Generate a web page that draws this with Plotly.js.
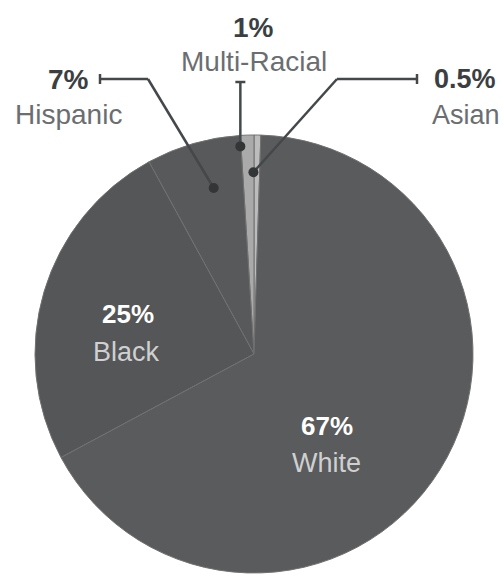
<!DOCTYPE html>
<html>
<head>
<meta charset="utf-8">
<script src="https://cdn.plot.ly/plotly-3.0.1.min.js"></script>
<style>html,body{margin:0;padding:0;background:#fff;}#chart{width:502px;height:575px;}</style>
</head>
<body>
<div id="chart"></div>
<script>
// ---- data ----
const categories = ['Asian', 'Multi-Racial', 'Hispanic', 'Black', 'White'];
const values = [0.5, 1, 7, 25, 67];
const pctLabels = ['0.5%', '1%', '7%', '25%', '67%'];

// ---- styles ----
const sliceColors = ['#bcbcbc', '#aaaaaa', '#58595a', '#555657', '#5a5b5c'];
const W = 502, H = 575;
const CX = 254, CY = 354, R = 219; // pie centre / radius in px
const px = (x) => x / W;
const py = (y) => 1 - y / H;

const trace = {
  type: 'pie',
  labels: categories,
  values: values,
  sort: false,
  direction: 'counterclockwise',
  rotation: 0,
  textinfo: 'none',
  hoverinfo: 'none',
  showlegend: false,
  marker: { colors: sliceColors, line: { color: '#717171', width: 1 } },
  domain: { x: [px(CX - R), px(CX + R)], y: [py(CY + R), py(CY - R)] }
};

// slice angles (degrees, counter-clockwise from 12 o'clock)
const total = values.reduce((a, b) => a + b, 0);
const starts = [];
let cum = 0;
values.forEach(v => { starts.push(cum / total * 360); cum += v; });
function slicePoint(i, frac, rf) {
  const a = (starts[i] + frac * values[i] / total * 360) * Math.PI / 180;
  return [CX - rf * R * Math.sin(a), CY - rf * R * Math.cos(a)];
}

const lineCol = '#45484a';
const shapes = [];
const annotations = [];
function seg(x0, y0, x1, y1) {
  shapes.push({ type: 'line', xref: 'paper', yref: 'paper', x0: px(x0), y0: py(y0), x1: px(x1), y1: py(y1),
    line: { color: lineCol, width: 2.5 } });
}
function dot(x, y) {
  const r = 5;
  shapes.push({ type: 'circle', xref: 'paper', yref: 'paper', x0: px(x - r), x1: px(x + r), y0: py(y + r), y1: py(y - r),
    fillcolor: '#333537', line: { width: 0 } });
}

// leaders: Hispanic (index 2), Multi-Racial (1), Asian (0)
const leaders = [
  { i: 2, frac: 0.33, rf: 0.78, cap: [100, 79], elbow: [148, 79] },
  { i: 1, frac: 0.55, rf: 0.95, cap: null, elbow: null },
  { i: 0, frac: 0.1, rf: 0.83, cap: [417, 79], elbow: [337, 79] }
];
leaders.forEach(L => {
  const p = slicePoint(L.i, L.frac, L.rf);
  if (L.cap) {
    seg(L.cap[0], L.cap[1], L.elbow[0], L.elbow[1]);
    seg(L.elbow[0], L.elbow[1], p[0], p[1]);
    seg(L.cap[0], L.cap[1] - 5, L.cap[0], L.cap[1] + 5);
  } else {
    seg(p[0], 82, p[0], p[1]);
    seg(p[0] - 5, 82, p[0] + 5, 82);
  }
  dot(p[0], p[1]);
});

const FONT = 'Liberation Sans, Arial, sans-serif';
function label(x, y, text, size, color, bold) {
  annotations.push({ xref: 'paper', yref: 'paper', x: px(x), y: py(y), xanchor: 'center', yanchor: 'middle',
    showarrow: false, text: bold ? '<b>' + text + '</b>' : text,
    font: { family: FONT, size: size, color: color } });
}
// outside labels: [pctX, pctY, nameX, nameY, size]
const outPos = { 0: [465, 79, 466, 115, 27], 1: [253, 27, 254, 61, 28], 2: [68, 79, 68, 115, 28] };
[0, 1, 2].forEach(i => {
  const p = outPos[i];
  label(p[0], p[1], pctLabels[i], p[4], '#3c3f42', true);
  label(p[2], p[3], categories[i], p[4], '#6b6e71', false);
});
// inside labels
const inPos = { 3: [128, 314, 126, 352], 4: [327, 426, 326, 463] };
[3, 4].forEach(i => {
  const p = inPos[i];
  label(p[0], p[1], pctLabels[i], 26, '#ffffff', true);
  label(p[2], p[3], categories[i], 27, '#cfd0d1', false);
});

const layout = {
  width: W, height: H,
  margin: { l: 0, r: 0, t: 0, b: 0 },
  paper_bgcolor: '#ffffff',
  shapes: shapes,
  annotations: annotations,
  font: { family: FONT }
};
Plotly.newPlot('chart', [trace], layout, { displayModeBar: false, staticPlot: true });
</script>
</body>
</html>
